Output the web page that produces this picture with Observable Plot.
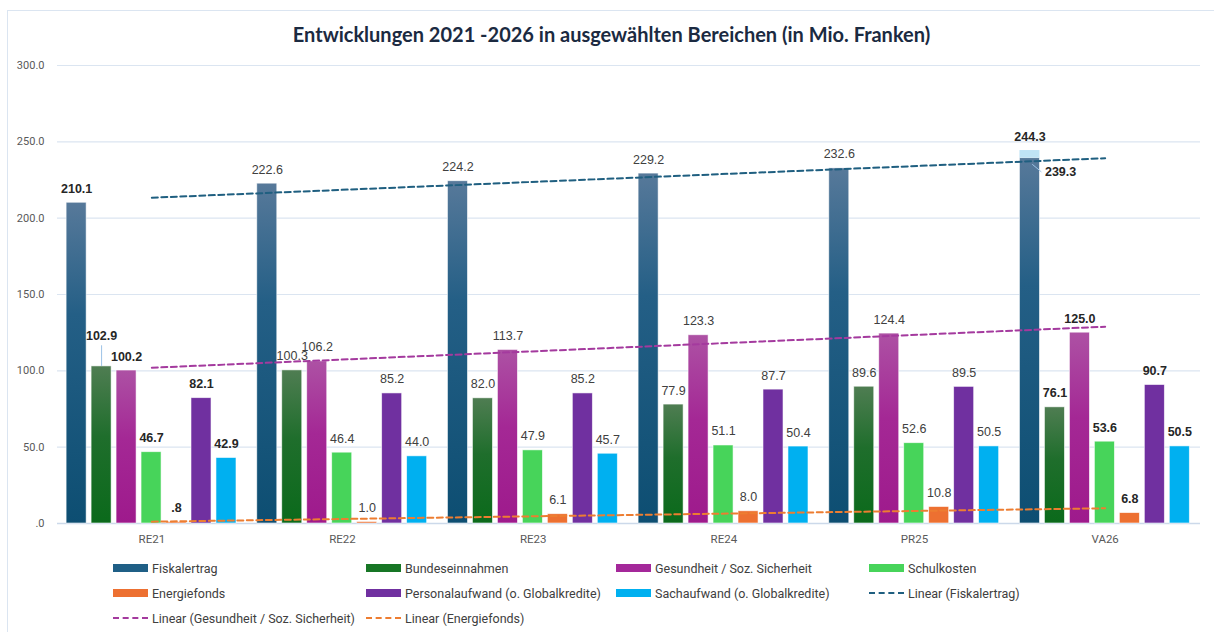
<!DOCTYPE html>
<html>
<head>
<meta charset="utf-8">
<script src="https://cdn.jsdelivr.net/npm/d3@7"></script>
<script src="https://cdn.jsdelivr.net/npm/@observablehq/plot@0.6"></script>
<style>
  body { margin: 0; background: #fff; width: 1214px; height: 632px; overflow: hidden; position: relative; }
  #frame { position: absolute; left: 7px; top: 10px; width: 1230px; height: 650px; border: 1px solid #dbe5f1; box-sizing: border-box; }
  #title { position: absolute; left: 0; top: 22px; width: 1223px; text-align: center; font: bold 20px Lato, "Noto Sans", sans-serif; color: #1b2a41; line-height: 24px; white-space: nowrap; }
  #chart { position: absolute; left: 0; top: 50px; }
  .lg { position: absolute; height: 16px; display: flex; align-items: center; font: 12.5px Roboto, "Liberation Sans", sans-serif; color: #404040; white-space: nowrap; }
  .sw { width: 35px; height: 8px; margin-right: 4px; flex: none; }
  .ln { width: 35px; height: 0; margin-right: 4px; flex: none; border-top: 2px dashed; }
</style>
</head>
<body>
<div id="frame"></div>
<div id="title">Entwicklungen 2021 -2026 in ausgewählten Bereichen (in Mio. Franken)</div>
<div id="chart"></div>
<div id="legend"></div>
<script>
// ---- data ----
const categories = ["RE21", "RE22", "RE23", "RE24", "PR25", "VA26"];
const fiskalertrag = [210.1, 222.6, 224.2, 229.2, 232.6, 239.3];
const fiskalertragHoechstwert = [null, null, null, null, null, 244.3];
const bundeseinnahmen = [102.9, 100.3, 82.0, 77.9, 89.6, 76.1];
const gesundheit = [100.2, 106.2, 113.7, 123.3, 124.4, 125.0];
const schulkosten = [46.7, 46.4, 47.9, 51.1, 52.6, 53.6];
const energiefonds = [0.8, 1.0, 6.1, 8.0, 10.8, 6.8];
const personalaufwand = [82.1, 85.2, 85.2, 87.7, 89.5, 90.7];
const sachaufwand = [42.9, 44.0, 45.7, 50.4, 50.5, 50.5];
const seriesNames = ["Fiskalertrag", "Bundeseinnahmen", "Gesundheit / Soz. Sicherheit", "Schulkosten",
  "Energiefonds", "Personalaufwand (o. Globalkredite)", "Sachaufwand (o. Globalkredite)"];
const trendNames = ["Linear (Fiskalertrag)", "Linear (Gesundheit / Soz. Sicherheit)", "Linear (Energiefonds)"];
const yTicks = [0, 50, 100, 150, 200, 250, 300];
const boldGroups = ["RE21", "VA26"];

// ---- styles ----
const seriesValues = [fiskalertrag, bundeseinnahmen, gesundheit, schulkosten, energiefonds, personalaufwand, sachaufwand];
const fills = ["url(#gFisk)", "url(#gBund)", "url(#gGes)", "#47d45a", "#ed7031", "#7030a0", "#00b0f0"];
const swatch = ["#1f5f86", "#177625", "#a4289a", "#47d45a", "#ed7031", "#7030a0", "#00b0f0"];
const trendColors = ["#1f5f80", "#a43a9e", "#ed7d31"];
const trendSeries = [0, 2, 4];

const rows = [];
seriesValues.forEach((vals, k) => vals.forEach((v, g) => rows.push({k, g, v, cat: categories[g], name: seriesNames[k]})));

const START = -0.447, STEP = 0.131, W = 0.105;
const bx1 = d => d.g + START + d.k * STEP;
const bx2 = d => bx1(d) + W;
const bxc = d => bx1(d) + W / 2;
const fmt = v => d3.format(".1f")(v).replace(/^0\./, ".");
const isBold = d => boldGroups.includes(d.cat);

const highlight = fiskalertragHoechstwert
  .map((top, g) => top == null ? null : {k: 0, g, v: top, base: fiskalertrag[g], cat: categories[g]})
  .filter(Boolean);

const isSpecialFisk = d => d.k === 0 && highlight.some(h => h.g === d.g);
const isLifted = d => d.k === 1 && d.g === 0;
const normalLabels = rows.filter(d => !isSpecialFisk(d) && !isLifted(d));
const liftedLabels = rows.filter(isLifted);

const labelFont = "Liberation Sans, Arial, sans-serif";
const labelMarks = [];
for (const bold of [true, false]) {
  labelMarks.push(Plot.text(normalLabels.filter(d => isBold(d) === bold), {
    x: bxc, y: "v", text: d => fmt(d.v), dy: -14,
    fontFamily: labelFont, fontSize: 12.5,
    fontWeight: bold ? "bold" : "normal", fill: bold ? "#262626" : "#404040"
  }));
}

const plot = Plot.plot({
  width: 1214,
  height: 503,
  marginTop: 15,
  marginBottom: 30,
  marginLeft: 57,
  marginRight: 14,
  style: {fontFamily: "Roboto, 'Liberation Sans', sans-serif", fontSize: "11px", color: "#595959", background: "transparent"},
  x: {type: "linear", domain: [-0.5, 5.5], range: [56, 1200]},
  y: {domain: [0, 300]},
  marks: [
    Plot.ruleY(yTicks.filter(t => t > 0), {stroke: "#dbe5f1", strokeWidth: 1.2}),
    Plot.ruleY([0], {stroke: "#ccd9ea", strokeWidth: 1.5}),
    ...seriesValues.map((_, k) => Plot.rectY(rows.filter(d => d.k === k), {
      x1: bx1, x2: bx2, y1: 0, y2: "v", fill: fills[k], stroke: "#ffffff", strokeWidth: 0.8, strokeOpacity: 0.7
    })),
    Plot.rectY(highlight, {x1: bx1, x2: bx2, y1: "base", y2: "v", fill: "#bfe3f5"}),
    ...trendSeries.map((k, i) => Plot.linearRegressionY(rows.filter(d => d.k === k), {
      x: "g", y: "v", ci: 0, stroke: trendColors[i], strokeWidth: 2, strokeDasharray: "6,3.5"
    })),
    // leader lines
    Plot.ruleX(liftedLabels, {x: bxc, y1: "v", y2: d => d.v + 13.5, stroke: "#9dc3e6", strokeWidth: 1}),
    Plot.link(highlight, {x1: d => bxc(d) + 0.012, y1: d => d.base - 4, x2: d => bxc(d) + 0.06, y2: d => d.base - 9, stroke: "#9dc3e6", strokeWidth: 1}),
    ...labelMarks,
    Plot.text(liftedLabels, {x: bxc, y: "v", text: d => fmt(d.v), dy: -30,
      fontFamily: labelFont, fontSize: 12.5, fontWeight: "bold", fill: "#262626"}),
    Plot.text(highlight, {x: bxc, y: "v", text: d => fmt(d.v), dy: -14,
      fontFamily: labelFont, fontSize: 12.5, fontWeight: "bold", fill: "#262626"}),
    Plot.text(highlight, {x: bxc, y: "base", text: d => fmt(d.base), dx: 15, dy: 14, textAnchor: "start",
      fontFamily: labelFont, fontSize: 12.5, fontWeight: "bold", fill: "#262626"}),
    Plot.axisY(yTicks, {tickSize: 0, tickPadding: 13, tickFormat: fmt, fontSize: 11, label: null}),
    Plot.axisX(d3.range(categories.length), {tickSize: 0, tickPadding: 11, tickFormat: i => categories[i], fontSize: 11.5, label: null})
  ]
});

const defs = document.createElementNS("http://www.w3.org/2000/svg", "defs");
defs.innerHTML = `
  <linearGradient id="gFisk" x1="0" y1="0" x2="0" y2="1">
    <stop offset="0" stop-color="#57799a"/><stop offset="0.35" stop-color="#245f86"/><stop offset="1" stop-color="#0d4e72"/>
  </linearGradient>
  <linearGradient id="gBund" x1="0" y1="0" x2="0" y2="1">
    <stop offset="0" stop-color="#4f7d52"/><stop offset="0.45" stop-color="#1f6e2c"/><stop offset="1" stop-color="#0b6a1b"/>
  </linearGradient>
  <linearGradient id="gGes" x1="0" y1="0" x2="0" y2="1">
    <stop offset="0" stop-color="#ad51a4"/><stop offset="0.45" stop-color="#a42895"/><stop offset="1" stop-color="#9e1a8c"/>
  </linearGradient>`;
plot.insertBefore(defs, plot.firstChild);
document.getElementById("chart").appendChild(plot);

// ---- legend ----
const colX = [113, 366, 616, 869];
const rowY = [568, 593, 618];
const items = seriesNames.map((n, k) => ({label: n, type: "bar", color: swatch[k]}))
  .concat(trendNames.map((n, i) => ({label: n, type: "line", color: trendColors[i]})));
const legend = document.getElementById("legend");
items.forEach((it, i) => {
  const el = document.createElement("div");
  el.className = "lg";
  el.style.left = colX[i % 4] + "px";
  el.style.top = (rowY[Math.floor(i / 4)] - 8) + "px";
  const sw = document.createElement("span");
  if (it.type === "bar") { sw.className = "sw"; sw.style.background = it.color; }
  else { sw.className = "ln"; sw.style.borderTopColor = it.color; }
  el.appendChild(sw);
  el.appendChild(document.createTextNode(it.label));
  legend.appendChild(el);
});
</script>
</body>
</html>
